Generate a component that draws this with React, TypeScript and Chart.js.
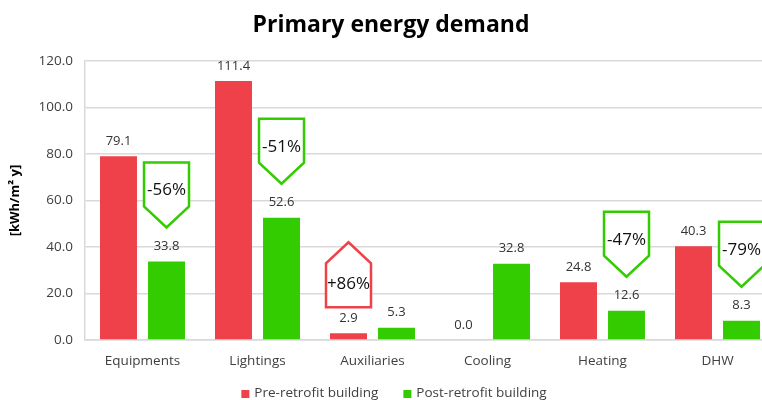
import React, { useEffect, useRef } from "react";
import { Chart, registerables } from "chart.js";

Chart.register(...registerables);

const categories = ["Equipments", "Lightings", "Auxiliaries", "Cooling", "Heating", "DHW"];
const preRetrofit = [79.1, 111.4, 2.9, 0.0, 24.8, 40.3];
const postRetrofit = [33.8, 52.6, 5.3, 32.8, 12.6, 8.3];
const yTicks = [0, 20, 40, 60, 80, 100, 120];
const calloutCategories = [0, 1, 2, 4, 5];
const calloutTexts = ["-56%", "-51%", "+86%", "-47%", "-79%"];
const calloutSeries = [1, 1, 0, 1, 1]; // 0 = pre-retrofit (up arrow), 1 = post-retrofit (down arrow)

const RED = "#EE4149";
const GREEN = "#33CC00";
const FONT = "'Open Sans', 'DejaVu Sans', sans-serif";

const labelPlugin = {
  id: "valueLabelsAndCallouts",
  afterDatasetsDraw(chart: any) {
    const ctx = chart.ctx as CanvasRenderingContext2D;
    ctx.save();
    ctx.font = `13px ${FONT}`;
    ctx.fillStyle = "#333333";
    ctx.textAlign = "center";
    ctx.textBaseline = "middle";
    chart.data.datasets.forEach((ds: any, di: number) => {
      const meta = chart.getDatasetMeta(di);
      meta.data.forEach((bar: any, i: number) => {
        const v = ds.data[i] as number;
        ctx.fillText(v.toFixed(1), bar.x, bar.y - 15);
      });
    });

    calloutCategories.forEach((ci, k) => {
      const di = calloutSeries[k];
      const bar = chart.getDatasetMeta(di).data[ci];
      const w = 45;
      const h = 65;
      const tipH = 21;
      const x = bar.x;
      let textY: number;
      ctx.beginPath();
      if (di === 1) {
        const tip = bar.y - 34;
        const top = tip - h;
        const sh = tip - tipH;
        ctx.moveTo(x - w / 2, top);
        ctx.lineTo(x + w / 2, top);
        ctx.lineTo(x + w / 2, sh);
        ctx.lineTo(x, tip);
        ctx.lineTo(x - w / 2, sh);
        ctx.closePath();
        textY = top + 28;
      } else {
        const bottom = bar.y - 26;
        const tip = bottom - h;
        const sh = tip + tipH;
        ctx.moveTo(x, tip);
        ctx.lineTo(x + w / 2, sh);
        ctx.lineTo(x + w / 2, bottom);
        ctx.lineTo(x - w / 2, bottom);
        ctx.lineTo(x - w / 2, sh);
        ctx.closePath();
        textY = bottom - 23;
      }
      ctx.fillStyle = "#ffffff";
      ctx.fill();
      ctx.lineWidth = 2.5;
      ctx.lineJoin = "miter";
      ctx.strokeStyle = di === 1 ? GREEN : RED;
      ctx.stroke();
      ctx.fillStyle = "#111111";
      ctx.font = `17px ${FONT}`;
      ctx.fillText(calloutTexts[k], x, textY);
    });
    ctx.restore();
  },
};

const legendPlugin = {
  id: "bottomLegend",
  afterDraw(chart: any) {
    const ctx = chart.ctx as CanvasRenderingContext2D;
    ctx.save();
    ctx.font = `13.5px ${FONT}`;
    ctx.textBaseline = "middle";
    ctx.textAlign = "left";
    const box = 8;
    const gap = 5;
    const spacing = 25;
    const items = chart.data.datasets.map((ds: any) => ({
      label: ds.label as string,
      color: ds.backgroundColor as string,
      w: ctx.measureText(ds.label).width,
    }));
    const total =
      items.reduce((s: number, it: any) => s + box + gap + it.w, 0) + spacing * (items.length - 1);
    const cx = (chart.chartArea.left + chart.chartArea.right) / 2 - 36;
    const y = chart.chartArea.bottom + 53;
    let x = cx - total / 2;
    items.forEach((it: any) => {
      ctx.fillStyle = it.color;
      ctx.fillRect(x, y - box / 2 + 1, box, box);
      ctx.fillStyle = "#404040";
      ctx.fillText(it.label, x + box + gap, y);
      x += box + gap + it.w + spacing;
    });
    ctx.restore();
  },
};

export default function App() {
  const ref = useRef<HTMLCanvasElement | null>(null);

  useEffect(() => {
    if (!ref.current) return;
    const chart = new Chart(ref.current, {
      type: "bar",
      data: {
        labels: categories,
        datasets: [
          {
            label: "Pre-retrofit building",
            data: preRetrofit,
            backgroundColor: RED,
            categoryPercentage: 0.835,
            barPercentage: 0.77,
          },
          {
            label: "Post-retrofit building",
            data: postRetrofit,
            backgroundColor: GREEN,
            categoryPercentage: 0.835,
            barPercentage: 0.77,
          },
        ],
      },
      options: {
        responsive: false,
        animation: false,
        layout: { padding: { left: 7, right: 7, top: 0, bottom: 38 } },
        plugins: {
          title: {
            display: true,
            text: "Primary energy demand",
            color: "#000",
            font: { family: FONT, size: 23, weight: "bold" },
            padding: { top: 12, bottom: 21.5 },
          },
          legend: { display: false },
          tooltip: { enabled: false },
        },
        scales: {
          x: {
            grid: { display: false, drawTicks: false },
            border: { display: true, color: "#d9d9d9", width: 1.5 },
            ticks: { color: "#404040", font: { family: FONT, size: 13.5 }, padding: 13 },
            afterFit: (s: any) => {
              s.height = 32;
            },
          },
          y: {
            min: 0,
            max: 120,
            afterBuildTicks: (s: any) => {
              s.ticks = yTicks.map((v) => ({ value: v }));
            },
            ticks: {
              color: "#404040",
              font: { family: FONT, size: 13.5 },
              padding: 12,
              callback: (v: any) => Number(v).toFixed(1),
            },
            grid: { color: "#d9d9d9", lineWidth: 1.5, drawTicks: false },
            border: { display: true, color: "#d9d9d9", width: 1.5 },
            title: {
              display: true,
              text: "[kWh/m² y]",
              color: "#000",
              font: { family: FONT, size: 13, weight: "bold" },
              padding: { top: 0, bottom: 0 },
            },
            afterFit: (s: any) => {
              s.width = 78;
            },
          },
        },
      } as any,
      plugins: [labelPlugin, legendPlugin],
    });
    return () => chart.destroy();
  }, []);

  return (
    <div
      style={{
        position: "fixed",
        left: 0,
        top: 0,
        width: 762,
        height: 400,
        overflow: "hidden",
        background: "#fff",
      }}
    >
      <canvas ref={ref} width={782} height={410} style={{ display: "block" }} />
    </div>
  );
}
